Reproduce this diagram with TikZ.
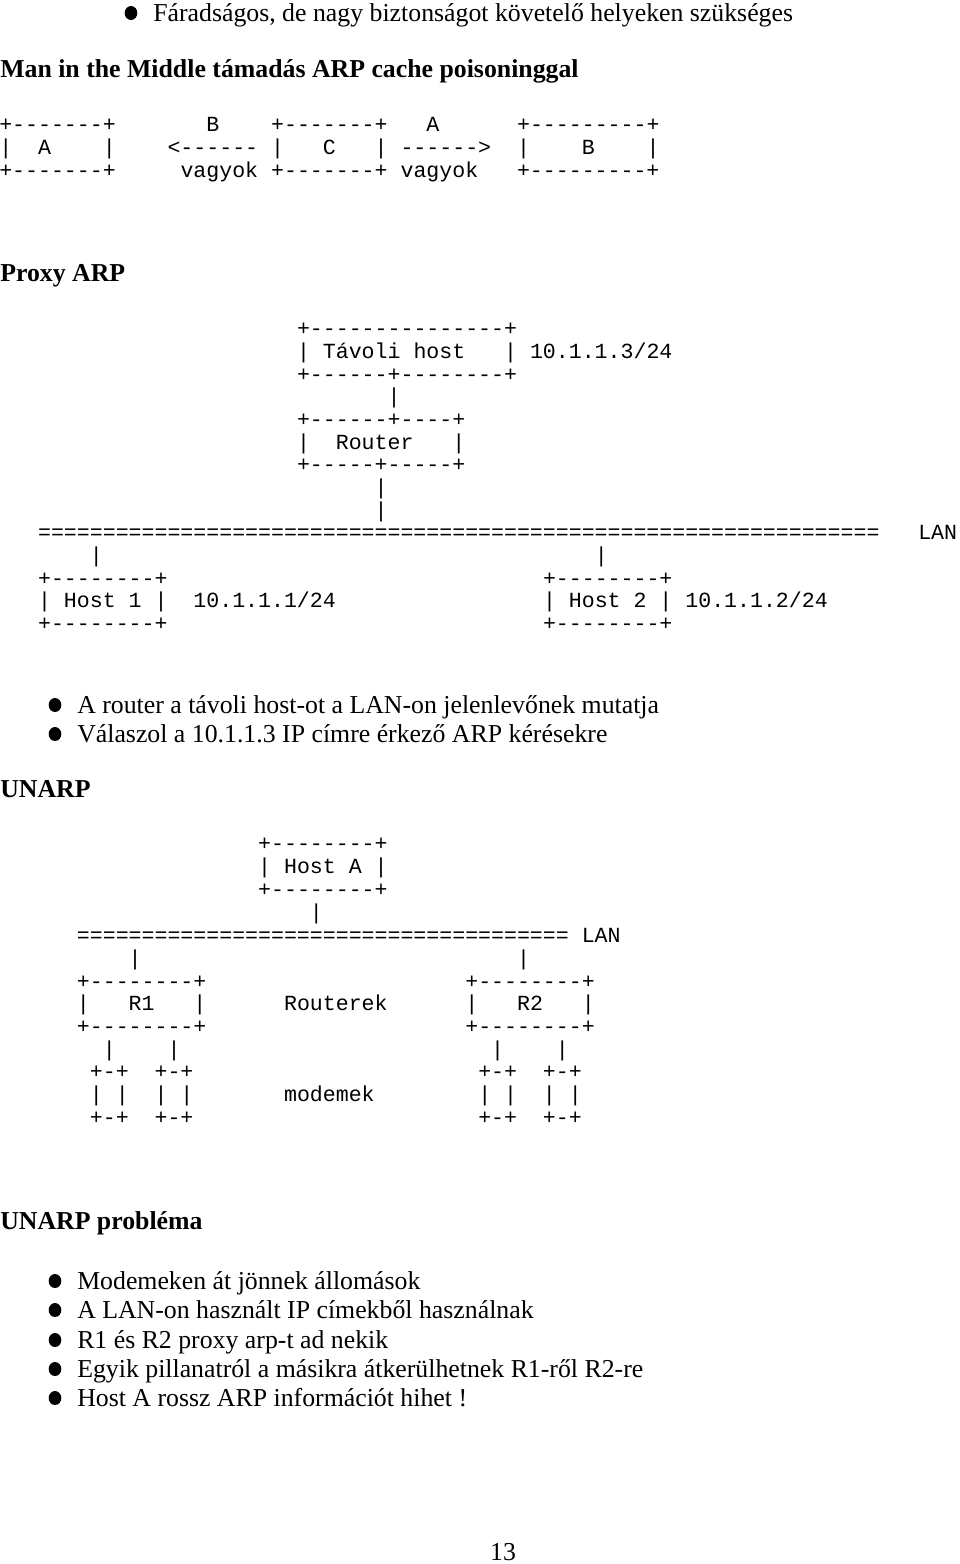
\documentclass[tikz,border=0pt]{standalone}
\usepackage{fontspec}
\usetikzlibrary{shapes.geometric}
\setmainfont{Liberation Serif}
\newfontfamily\asciimono{Liberation Mono}
\ExplSyntaxOn
\cs_new:Npn \asciirep #1#2 { \prg_replicate:nn {#1} {#2} }
\cs_new:Npn \asciisp #1 { \prg_replicate:nn {#1} { \nobreakspace } }
\ExplSyntaxOff
\tikzset{
  mono/.style={anchor=base west, inner sep=0pt, font=\asciimono\fontsize{16.18pt}{18pt}\selectfont},
  txt/.style={anchor=base west, inner sep=0pt, font=\fontsize{19.35pt}{22pt}\selectfont},
  head/.style={anchor=base west, inner sep=0pt, font=\bfseries\fontsize{19.35pt}{22pt}\selectfont},
  dot/.style={ellipse, fill=black, inner sep=0pt, minimum width=9.5pt, minimum height=10.5pt},
}
\begin{document}
\begin{tikzpicture}[x=0.75pt, y=-0.75pt]
\useasboundingbox (0,0) rectangle (960,1564);

% top bullet
\node[dot] (d0) at (131,13) {};
\node[txt] (t0) at (153,21.5) {Fáradságos, de nagy biztonságot követelő helyeken szükséges};

\node[head] (h1) at (0,77.5) {Man in the Middle támadás ARP cache poisoninggal};

% MITM ascii
\node[mono] (m1) at (-1,131) {+-------+\asciisp{7}B\asciisp{4}+-------+\asciisp{3}A\asciisp{6}+---------+};
\node[mono] (m2) at (-1,154) {|\asciisp{2}A\asciisp{4}|\asciisp{4}<------~|\asciisp{3}C\asciisp{3}|~------>\asciisp{2}|\asciisp{4}B\asciisp{4}|};
\node[mono] (m3) at (-1,177) {+-------+\asciisp{5}vagyok~+-------+~vagyok\asciisp{3}+---------+};

\node[head] (h2) at (0,281.5) {Proxy ARP};

% Proxy ARP ascii
\node[mono] (p1) at (-1,335) {\asciisp{23}+\asciirep{15}{-}+};
\node[mono] (p2) at (-1,358) {\asciisp{23}|~Távoli~host\asciisp{3}|~10.1.1.3/24};
\node[mono] (p3) at (-1,381) {\asciisp{23}+------+--------+};
\node[mono] (p4) at (-1,403) {\asciisp{30}|};
\node[mono] (p5) at (-1,426) {\asciisp{23}+------+----+};
\node[mono] (p6) at (-1,449) {\asciisp{23}|\asciisp{2}Router\asciisp{3}|};
\node[mono] (p7) at (-1,471) {\asciisp{23}+-----+-----+};
\node[mono] (p8) at (-1,494) {\asciisp{29}|};
\node[mono] (p9) at (-1,517) {\asciisp{29}|};
\node[mono] (p10) at (-1,539) {\asciisp{3}\asciirep{65}{=}\asciisp{3}LAN};
\node[mono] (p11) at (-1,562) {\asciisp{7}|\asciisp{38}|};
\node[mono] (p12) at (-1,585) {\asciisp{3}+--------+\asciisp{29}+--------+};
\node[mono] (p13) at (-1,607) {\asciisp{3}|~Host~1~|\asciisp{2}10.1.1.1/24\asciisp{16}|~Host~2~|~10.1.1.2/24};
\node[mono] (p14) at (-1,630) {\asciisp{3}+--------+\asciisp{29}+--------+};

\node[dot] (d1) at (55,705) {};
\node[txt] (t1) at (77,713.5) {A router a távoli host-ot a LAN-on jelenlevőnek mutatja};
\node[dot] (d2) at (55,734) {};
\node[txt] (t2) at (77,742.5) {Válaszol a 10.1.1.3 IP címre érkező ARP kérésekre};

\node[head] (h3) at (0,797.5) {UNARP};

% UNARP ascii
\node[mono] (u1) at (-1,850) {\asciisp{20}+--------+};
\node[mono] (u2) at (-1,873) {\asciisp{20}|~Host~A~|};
\node[mono] (u3) at (-1,896) {\asciisp{20}+--------+};
\node[mono] (u4) at (-1,919) {\asciisp{24}|};
\node[mono] (u5) at (-1,942) {\asciisp{6}\asciirep{38}{=}~LAN};
\node[mono] (u6) at (-1,965) {\asciisp{10}|\asciisp{29}|};
\node[mono] (u7) at (-1,988) {\asciisp{6}+--------+\asciisp{20}+--------+};
\node[mono] (u8) at (-1,1010) {\asciisp{6}|\asciisp{3}R1\asciisp{3}|\asciisp{6}Routerek\asciisp{6}|\asciisp{3}R2\asciisp{3}|};
\node[mono] (u9) at (-1,1033) {\asciisp{6}+--------+\asciisp{20}+--------+};
\node[mono] (u10) at (-1,1056) {\asciisp{8}|\asciisp{4}|\asciisp{24}|\asciisp{4}|};
\node[mono] (u11) at (-1,1078) {\asciisp{7}+-+\asciisp{2}+-+\asciisp{22}+-+\asciisp{2}+-+};
\node[mono] (u12) at (-1,1101) {\asciisp{7}|~|\asciisp{2}|~|\asciisp{7}modemek\asciisp{8}|~|\asciisp{2}|~|};
\node[mono] (u13) at (-1,1124) {\asciisp{7}+-+\asciisp{2}+-+\asciisp{22}+-+\asciisp{2}+-+};

\node[head] (h4) at (0,1229.5) {UNARP probléma};

\node[dot] (d3) at (55,1281) {};
\node[txt] (t3) at (77,1289.5) {Modemeken át jönnek állomások};
\node[dot] (d4) at (55,1310) {};
\node[txt] (t4) at (77,1318.5) {A LAN-on használt IP címekből használnak};
\node[dot] (d5) at (55,1340) {};
\node[txt] (t5) at (77,1348.5) {R1 és R2 proxy arp-t ad nekik};
\node[dot] (d6) at (55,1369) {};
\node[txt] (t6) at (77,1377.5) {Egyik pillanatról a másikra átkerülhetnek R1-ről R2-re};
\node[dot] (d7) at (55,1398) {};
\node[txt] (t7) at (77,1406.5) {Host A rossz ARP információt hihet !};

\node[txt, anchor=base] (pg) at (503,1560) {13};
\end{tikzpicture}
\end{document}
